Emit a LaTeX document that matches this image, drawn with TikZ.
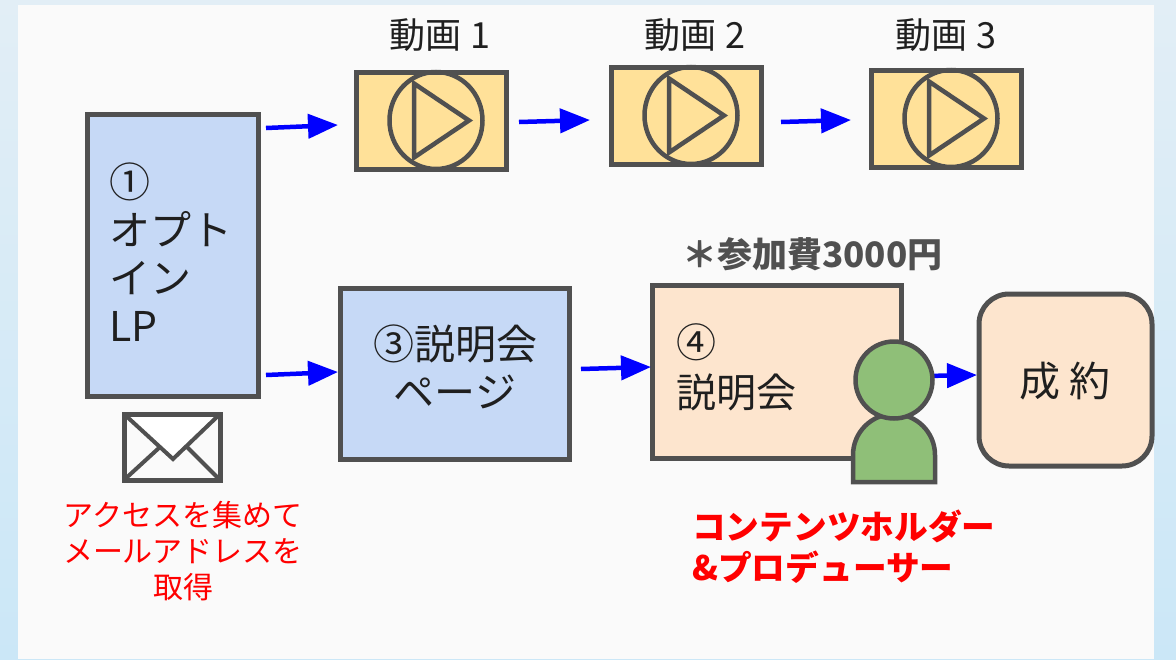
\documentclass[tikz,border=0pt]{standalone}
\usepackage{fontspec}
\setmainfont{Noto Sans CJK JP}
\usetikzlibrary{arrows.meta,calc,shapes.geometric}
\definecolor{edge}{HTML}{505050}
\definecolor{bluebox}{HTML}{C6D9F6}
\definecolor{vidbox}{HTML}{FFE199}
\definecolor{peach}{HTML}{FDE5CE}
\definecolor{person}{HTML}{8FBF78}
\definecolor{panel}{HTML}{FAFAFA}
\definecolor{feetxt}{HTML}{505050}
\definecolor{ink}{HTML}{1F1F1F}
\definecolor{bgtop}{HTML}{E2EEF6}
\definecolor{bgbot}{HTML}{CBE7F7}
\tikzset{
  px/.style={x=1pt,y=-1pt},
  boxa/.style={draw=edge,line width=5pt,inner sep=0pt,outer sep=0pt,anchor=north west},
  video/.style={boxa,fill=vidbox,minimum width=150pt,minimum height=97pt},
  playring/.style={draw=edge,line width=4.5pt,ellipse,inner sep=0pt,minimum width=93pt,minimum height=97pt},
  playtri/.style={draw=edge,line width=4.5pt,line join=miter},
  flow/.style={draw=blue,line width=4.5pt,-{Triangle[length=30pt,width=24pt]}},
  title/.style={font=\fontsize{36}{38}\selectfont,text=ink,inner sep=0pt},
  body/.style={font=\fontsize{41}{48}\selectfont,text=ink,inner sep=0pt,align=left,anchor=north west},
}
\begin{document}
\begin{tikzpicture}[px]
\useasboundingbox (0,0) rectangle (1176,659);
\shade[top color=bgtop,bottom color=bgbot] (0,0) rectangle (1176,659);
\fill[panel] (18,5) rectangle (1154,659);

\node[boxa,fill=bluebox,minimum width=171pt,minimum height=282pt] (lp) at (87,114) {};
\node[body] (lptext) at (109,163) {①\\オプト\\イン\\LP};

\node[video] (v1) at (356,72) {};
\node[video] (v2) at (611,67) {};
\node[video] (v3) at (871,70) {};
\foreach \v/\tx/\dx/\dy in {v1/動画 1/9/-37,v2/動画 2/9/-32,v3/動画 3/0/-35}{
  \node[playring] (\v ring) at ($(\v.center)+(5,0)$) {};
  \draw[playtri] ($(\v ring.center)+(-22,-37)$) -- ($(\v ring.center)+(33,0)$) -- ($(\v ring.center)+(-22,37)$) -- cycle;
  \node[title] (\v title) at ($(\v.north)+(\dx,\dy)$) {\tx};
}

\node[boxa,fill=bluebox,minimum width=229pt,minimum height=171pt] (p3) at (340,288) {};
\node[body,align=center,anchor=north] (p3text) at (455,325) {③説明会\\ページ};

\node[boxa,fill=peach,minimum width=249pt,minimum height=173pt] (p4) at (652,285) {};
\node[body,font=\fontsize{40}{50}\selectfont] (p4text) at (676,323) {④\\説明会};
\node[font=\fontsize{35}{38}\selectfont\bfseries,text=feetxt,inner sep=0pt,anchor=west] (fee) at (682,254) {＊参加費3000円};

\node[boxa,fill=peach,rounded corners=30pt,minimum width=173pt,minimum height=172pt] (deal) at (979,294) {};
\node[font=\fontsize{41}{44}\selectfont,text=ink,inner sep=0pt] (dealtext) at (1065,381) {成 約};

\draw[flow] ([shift={(8,14)}]lp.north east) -- ([shift={(-18,53)}]v1.north west);
\draw[flow] ([shift={(13,50)}]v1.north east) -- ([shift={(-21,53)}]v2.north west);
\draw[flow] ([shift={(20,55)}]v2.north east) -- ([shift={(-20,50)}]v3.north west);
\draw[flow] ([shift={(8,-21)}]lp.south east) -- ([shift={(-2,84)}]p3.north west);
\draw[flow] ([shift={(12,81)}]p3.north east) -- ([shift={(-1,82)}]p4.north west);

% person
\draw[flow] (925,376) coordinate (hs) -- ([shift={(-2,81)}]deal.north west);
\draw[draw=edge,line width=4.5pt,fill=person,line join=miter] (853,482) coordinate (bodyfoot) -- (853,455) arc[start angle=180,end angle=0,x radius=41,y radius=-41] -- (935,482) -- cycle;
\node[draw=edge,line width=4.5pt,fill=person,circle,minimum size=77pt,inner sep=0pt] (head) at (894,380) {};

% envelope
\node[boxa,fill=panel,minimum width=96pt,minimum height=66pt] (mail) at (124,414) {};
\fill[white] (mail.north west) -- (173,459) -- (mail.north east) -- cycle;
\draw[edge,line width=4pt] (mail.north west) -- (173,459) -- (mail.north east);
\draw[edge,line width=4pt] (mail.south west) -- (160,447) (187,447) -- (mail.south east);
\draw[edge,line width=5pt] (mail.north west) rectangle (mail.south east);

\node[font=\fontsize{30}{36}\selectfont,text=red,inner sep=0pt,align=center,anchor=north] (note) at (183,501) {アクセスを集めて\\メールアドレスを\\取得};
\node[font=\fontsize{33.7}{41}\selectfont\bfseries,text=red,inner sep=0pt,align=left,anchor=north west] (holder) at (692,510) {コンテンツホルダー\\\&プロデューサー};
\end{tikzpicture}
\end{document}
